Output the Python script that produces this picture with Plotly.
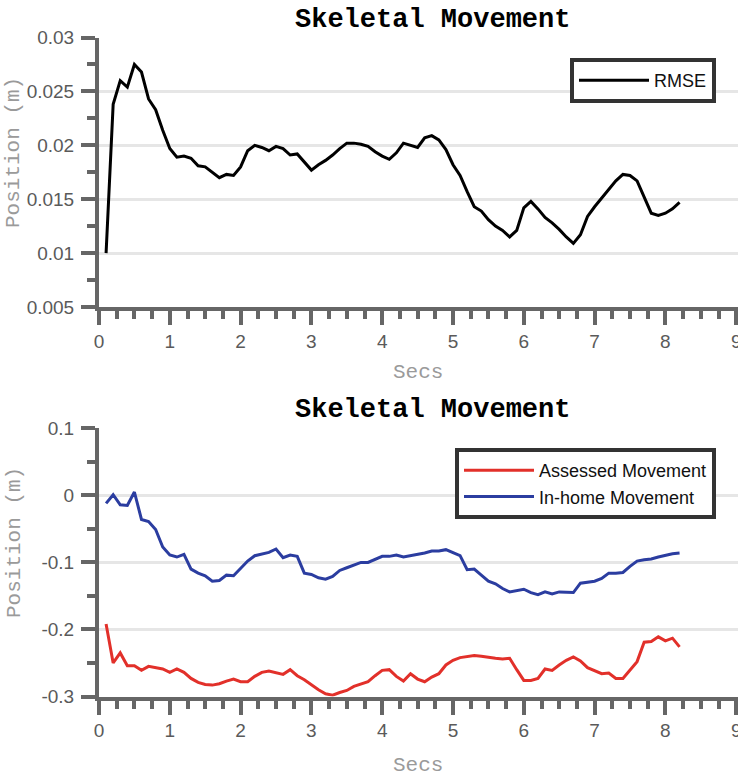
import plotly.graph_objects as go

# ---------------- data ----------------
secs = [0.1, 0.2, 0.3, 0.4, 0.5, 0.6, 0.7, 0.8, 0.9, 1.0,
        1.1, 1.2, 1.3, 1.4, 1.5, 1.6, 1.7, 1.8, 1.9, 2.0,
        2.1, 2.2, 2.3, 2.4, 2.5, 2.6, 2.7, 2.8, 2.9, 3.0,
        3.1, 3.2, 3.3, 3.4, 3.5, 3.6, 3.7, 3.8, 3.9, 4.0,
        4.1, 4.2, 4.3, 4.4, 4.5, 4.6, 4.7, 4.8, 4.9, 5.0,
        5.1, 5.2, 5.3, 5.4, 5.5, 5.6, 5.7, 5.8, 5.9, 6.0,
        6.1, 6.2, 6.3, 6.4, 6.5, 6.6, 6.7, 6.8, 6.9, 7.0,
        7.1, 7.2, 7.3, 7.4, 7.5, 7.6, 7.7, 7.8, 7.9, 8.0,
        8.1, 8.2]

rmse = [0.0100, 0.0238, 0.0260, 0.0254, 0.0275, 0.0268, 0.0243, 0.0233, 0.0214, 0.0197,
        0.0189, 0.0190, 0.0188, 0.0181, 0.0180, 0.0175, 0.0170, 0.0173, 0.0172, 0.0180,
        0.0195, 0.0200, 0.0198, 0.0195, 0.0199, 0.0197, 0.0191, 0.0192, 0.0184, 0.0177,
        0.0182, 0.0186, 0.0191, 0.0197, 0.0202, 0.0202, 0.0201, 0.0199, 0.0194, 0.0190,
        0.0187, 0.0193, 0.0202, 0.0200, 0.0198, 0.0207, 0.0209, 0.0205, 0.0196, 0.0182,
        0.0172, 0.0157, 0.0143, 0.0139, 0.0131, 0.0125, 0.0121, 0.0115, 0.0121, 0.0142,
        0.0148, 0.0141, 0.0133, 0.0128, 0.0122, 0.0115, 0.0109, 0.0117, 0.0134, 0.0143,
        0.0151, 0.0159, 0.0167, 0.0173, 0.0172, 0.0167, 0.0152, 0.0137, 0.0135, 0.0137,
        0.0141, 0.0147]

assessed = [-0.192, -0.250, -0.235, -0.254, -0.254, -0.261, -0.255, -0.257, -0.259, -0.264,
            -0.259, -0.264, -0.273, -0.279, -0.282, -0.283, -0.281, -0.277, -0.274, -0.278,
            -0.278, -0.270, -0.264, -0.262, -0.264, -0.267, -0.260, -0.269, -0.275, -0.283,
            -0.290, -0.296, -0.298, -0.294, -0.291, -0.285, -0.281, -0.278, -0.269, -0.261,
            -0.260, -0.270, -0.277, -0.266, -0.274, -0.278, -0.271, -0.266, -0.253, -0.246,
            -0.242, -0.240, -0.239, -0.240, -0.242, -0.243, -0.244, -0.243, -0.260, -0.276,
            -0.276, -0.273, -0.259, -0.261, -0.253, -0.246, -0.241, -0.247, -0.257, -0.261,
            -0.266, -0.265, -0.273, -0.273, -0.260, -0.248, -0.219, -0.218, -0.211, -0.217,
            -0.213, -0.226]

inhome = [-0.012, 0.001, -0.014, -0.015, 0.005, -0.036, -0.039, -0.051, -0.077, -0.089,
          -0.092, -0.088, -0.110, -0.116, -0.120, -0.128, -0.127, -0.119, -0.120, -0.109,
          -0.098, -0.090, -0.087, -0.085, -0.080, -0.093, -0.089, -0.091, -0.116, -0.118,
          -0.123, -0.125, -0.121, -0.112, -0.108, -0.104, -0.100, -0.100, -0.095, -0.091,
          -0.091, -0.089, -0.092, -0.090, -0.089, -0.086, -0.083, -0.083, -0.081, -0.085,
          -0.090, -0.111, -0.110, -0.119, -0.128, -0.132, -0.139, -0.144, -0.142, -0.140,
          -0.145, -0.148, -0.144, -0.147, -0.144, -0.144, -0.145, -0.131, -0.129, -0.128,
          -0.124, -0.116, -0.116, -0.115, -0.106, -0.098, -0.096, -0.095, -0.092, -0.089,
          -0.087, -0.086]

x_ticks = [0, 1, 2, 3, 4, 5, 6, 7, 8, 9]
top_y_ticks = [0.005, 0.01, 0.015, 0.02, 0.025, 0.03]
top_y_labels = ["0.005", "0.01", "0.015", "0.02", "0.025", "0.03"]
bot_y_ticks = [-0.3, -0.2, -0.1, 0, 0.1]
bot_y_labels = ["-0.3", "-0.2", "-0.1", "0", "0.1"]

title_text = "Skeletal Movement"
x_title = "Secs"
y_title = "Position (m)"

# ---------------- figure ----------------
W, H = 738, 776
AX = "#666666"
GRID = "#e6e6e6"
TICKFONT = dict(family="Liberation Sans, Arial, sans-serif", size=19, color="#5a5a5a")
MONO = "Liberation Mono, Courier New, monospace"

fig = go.Figure()
fig.add_trace(go.Scatter(x=secs, y=rmse, mode="lines", name="RMSE",
                         line=dict(color="#000000", width=3),
                         xaxis="x", yaxis="y", legend="legend"))
fig.add_trace(go.Scatter(x=secs, y=assessed, mode="lines", name="Assessed Movement",
                         line=dict(color="#E2302A", width=3),
                         xaxis="x2", yaxis="y2", legend="legend2"))
fig.add_trace(go.Scatter(x=secs, y=inhome, mode="lines", name="In-home Movement",
                         line=dict(color="#2B3DA0", width=3),
                         xaxis="x2", yaxis="y2", legend="legend2"))

x_left = 99
px_per_sec = 70.8
x_max = (W - x_left) / px_per_sec


def xax(anchor):
    return dict(domain=[x_left / W, 1], range=[0, x_max], anchor=anchor, automargin=False,
                showline=True, linewidth=4, linecolor=AX,
                ticks="outside", ticklen=14, tickwidth=4, tickcolor=AX,
                tickmode="array", tickvals=x_ticks, tickfont=TICKFONT,
                ticklabeloverflow="allow",
                showgrid=False, zeroline=False,
                minor=dict(tickmode="linear", tick0=0, dtick=0.25, ticks="outside",
                           ticklen=8, tickwidth=4, tickcolor=AX, showgrid=False))


def yax(anchor, dom, rng, vals, labels, mdt):
    return dict(domain=dom, range=rng, anchor=anchor, automargin=False,
                showline=True, linewidth=4, linecolor=AX,
                ticks="outside", ticklen=14, tickwidth=4, tickcolor=AX,
                ticklabelstandoff=3, ticklabeloverflow="allow",
                tickmode="array", tickvals=vals, ticktext=labels, tickfont=TICKFONT,
                showgrid=True, gridcolor=GRID, gridwidth=3, zeroline=False,
                minor=dict(tickmode="linear", tick0=0, dtick=mdt, ticks="outside",
                           ticklen=8, tickwidth=4, tickcolor=AX, showgrid=False))


top_dom = [(H - 307) / H, (H - 37.5) / H]
bot_dom = [(H - 696.5) / H, (H - 428.3) / H]

legend_common = dict(bgcolor="white", bordercolor="#333333", borderwidth=4,
                     font=dict(family="Liberation Sans, Arial, sans-serif", size=18, color="#111111"),
                     xanchor="right", yanchor="top", itemwidth=70)

fig.update_layout(
    template="none",
    width=W, height=H,
    margin=dict(l=0, r=0, t=0, b=0, autoexpand=False),
    paper_bgcolor="white", plot_bgcolor="white",
    xaxis=xax("y"),
    yaxis=yax("x", top_dom, [0.005, 0.03], top_y_ticks, top_y_labels, 0.0025),
    xaxis2=xax("y2"),
    yaxis2=yax("x2", bot_dom, [-0.3, 0.1], bot_y_ticks, bot_y_labels, 0.05),
    legend=dict(x=716 / W, y=(H - 58) / H, **legend_common),
    legend2=dict(x=716 / W, y=(H - 448) / H, **legend_common),
    showlegend=True,
)

ann = []
for ty in (20, 410):
    ann.append(dict(text="<b>" + title_text + "</b>", x=432 / W, y=(H - ty) / H,
                    xref="paper", yref="paper", xanchor="center", yanchor="middle",
                    showarrow=False, font=dict(family=MONO, size=27, color="#000000")))
for ty in (373, 765):
    ann.append(dict(text=x_title, x=(x_left + 9 * px_per_sec / 2) / W, y=(H - ty) / H,
                    xref="paper", yref="paper", xanchor="center", yanchor="middle",
                    showarrow=False, font=dict(family=MONO, size=21, color="#9a9a9a")))
for cy in (153, 543):
    ann.append(dict(text=y_title, x=14 / W, y=(H - cy) / H, textangle=-90,
                    xref="paper", yref="paper", xanchor="center", yanchor="middle",
                    showarrow=False, font=dict(family=MONO, size=21, color="#9a9a9a")))
fig.update_layout(annotations=ann)

fig.write_html("out.html")
